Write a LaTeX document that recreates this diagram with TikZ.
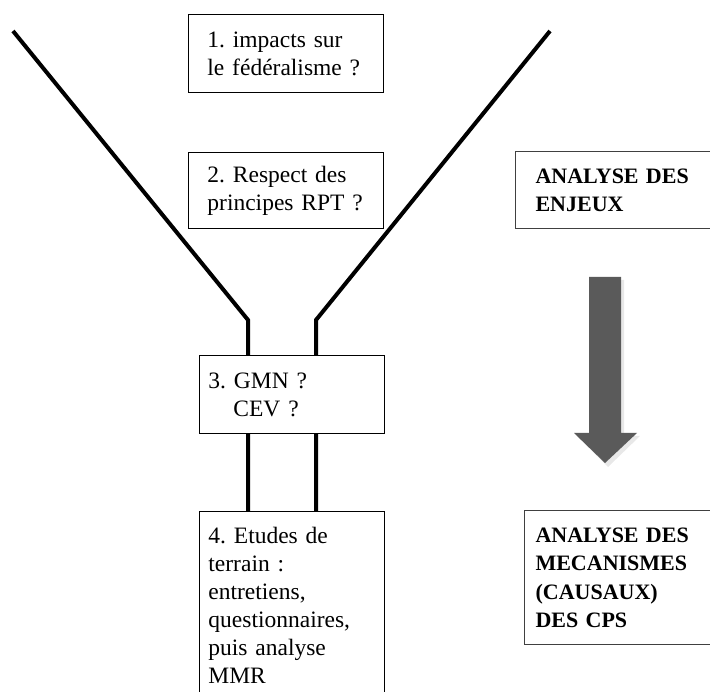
\documentclass[tikz,border=0pt]{standalone}
\usepackage{fontspec}
\setmainfont{Liberation Serif}
\frenchspacing
\usepackage{tikz}
\usetikzlibrary{calc}
\definecolor{arrowgrey}{HTML}{5A5A5A}
\newcommand\boxindent{\hspace*{16pt}}
\tikzset{
	qbox/.style={draw=black, line width=0.9pt, fill=white, anchor=north west, align=left,
		font=\fontsize{23.5}{28}\selectfont, inner ysep=0pt},
	phasebox/.style={draw=black!75, line width=1.1pt, fill=white, anchor=north west, align=left,
		font=\bfseries\fontsize{22}{28.5}\selectfont, inner ysep=17pt}
}

\begin{document}
\begin{tikzpicture}[x=1pt, y=-1pt]
		%%%%% START %%%%%
		\useasboundingbox (0, 0) rectangle (710, 692);
		
		\coordinate (topL) at (13, 31);
		\coordinate (bendL) at (248, 320);
		\coordinate (topR) at (550, 31);
		\coordinate (bendR) at (316, 320);
		
		\node[qbox, inner xsep=3pt, text width=189pt, minimum height=78pt] (q1) at (188, 14)
			{\boxindent 1. impacts sur\\\boxindent le fédéralisme ?};
		\node[qbox, inner xsep=3pt, text width=189pt, minimum height=76pt] (q2) at (188, 152)
			{\boxindent 2. Respect des\\\boxindent principes RPT ?};
		\node[qbox, inner xsep=9pt, text width=167pt, inner ysep=16pt] (q4) at (199, 511)
			{4. Etudes de\\terrain :\\entretiens,\\questionnaires,\\puis analyse\\MMR};
		
		% funnel
		\draw[line width=4pt, line join=miter] (topL) -- (bendL) -- (bendL |- q4.north);
		\draw[line width=4pt, line join=miter] (topR) -- (bendR) -- (bendR |- q4.north);
		
		\node[qbox, inner xsep=9pt, text width=167pt, minimum height=78pt] (q3) at (199, 355)
			{3. GMN ?\\\hspace*{25pt}CEV ?};
		
		\node[phasebox, inner xsep=20pt, text width=170pt] (enjeux) at (515, 151)
			{ANALYSE DES\\ENJEUX};
		\node[phasebox, inner xsep=11pt, text width=180pt] (mecanismes) at (524, 510)
			{ANALYSE DES\\MECANISMES\\(CAUSAUX)\\DES CPS};
		
		% big arrow
		\fill[black!9] (592, 280) -- (624, 280) -- (624, 436) -- (640, 436) -- (608, 467)
			-- (577, 436) -- (592, 436) -- cycle;
		\fill[arrowgrey] (589, 277) -- (621, 277) -- (621, 433) -- (637, 433) -- (605, 463)
			-- (574, 433) -- (589, 433) -- cycle;
		
		%%%%% END %%%%%
	\end{tikzpicture}
\end{document}
